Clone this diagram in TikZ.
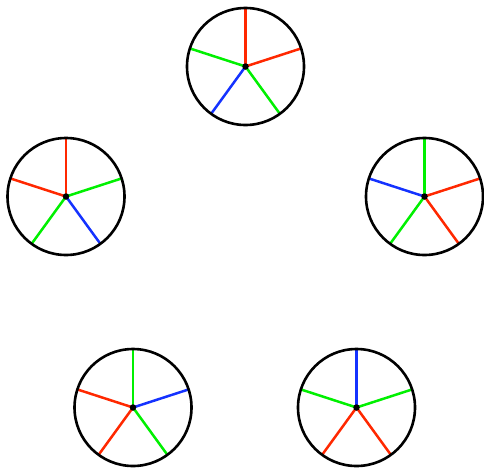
\documentclass[tikz,border=0pt]{standalone}
\usetikzlibrary{backgrounds}
\definecolor{sred}{RGB}{255,40,0}
\definecolor{sgreen}{RGB}{0,240,0}
\definecolor{sblue}{RGB}{20,50,255}
\begin{document}
\begin{tikzpicture}[x=1pt,y=-1pt,
  wheel/.style={circle,draw=black,line width=2.6pt,minimum size=117pt,inner sep=0pt,outer sep=0pt},
  spoke/.style={line width=2.5pt},
  hub/.style={circle,fill=black,inner sep=0pt,minimum size=6.5pt}]
\useasboundingbox (0,0) rectangle (484,469);
\foreach \n/\x/\y/\a/\b/\c/\d/\e in {
  t/245.5/66.5/sred/sred/sgreen/sblue/sgreen,
  l/66/196.5/sred/sgreen/sblue/sgreen/sred,
  r/424.5/196.5/sgreen/sred/sred/sgreen/sblue,
  bl/133/407.5/sgreen/sblue/sgreen/sred/sred,
  br/356.5/407.5/sblue/sgreen/sred/sred/sgreen}{
  \node[wheel] (\n) at (\x,\y) {};
  \begin{scope}[on background layer]
  \draw[spoke,\a] (\n.center) -- (\n.90);
  \draw[spoke,\b] (\n.center) -- (\n.18);
  \draw[spoke,\c] (\n.center) -- (\n.-54);
  \draw[spoke,\d] (\n.center) -- (\n.-126);
  \draw[spoke,\e] (\n.center) -- (\n.162);
  \end{scope}
  \node[hub] (\n h) at (\n.center) {};
}
\end{tikzpicture}
\end{document}
